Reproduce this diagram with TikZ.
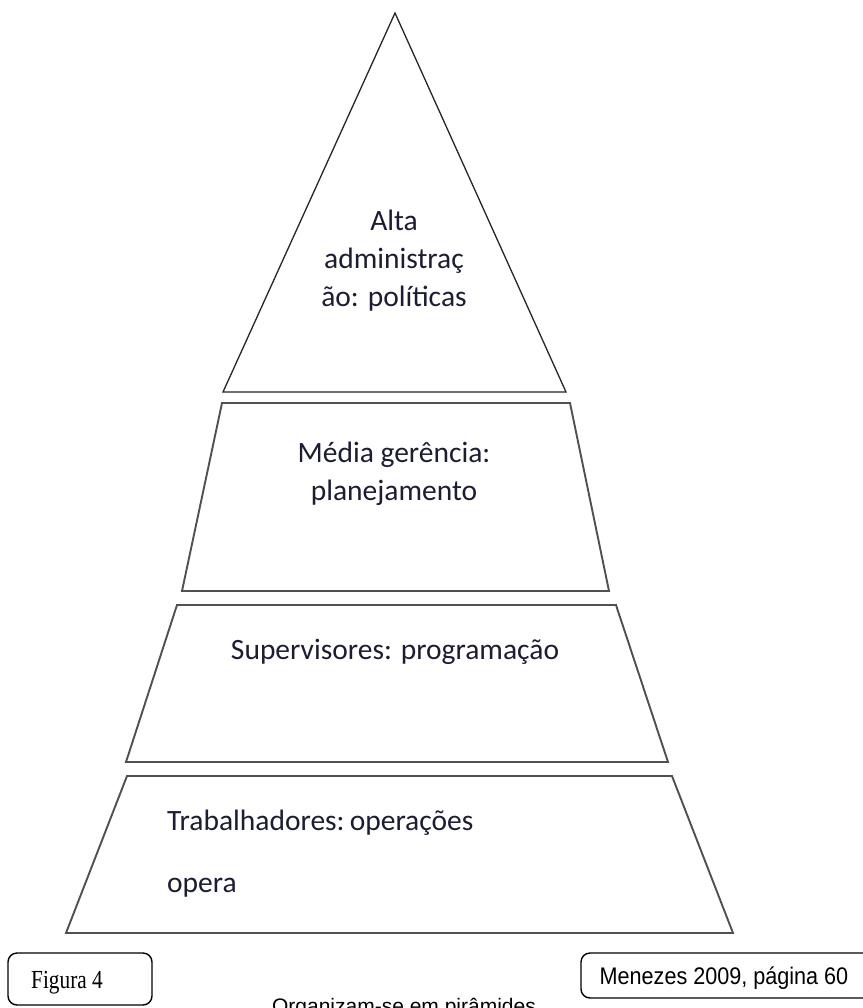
\documentclass[tikz,border=0pt]{standalone}
\usepackage{fontspec}
\setmainfont{Carlito}
\newfontfamily\boxserif{Liberation Serif}
\newfontfamily\boxsans{Liberation Sans}
\definecolor{inktext}{RGB}{28,28,52}
\definecolor{tierline}{RGB}{80,80,80}
\tikzset{
  tier/.style={draw=tierline, line width=1.9pt, line join=miter, fill=white},
  apex/.style={draw=black!85, line width=1.3pt, line join=miter, fill=white},
  label/.style={inner sep=0pt, anchor=base, text=inktext,
    font=\fontsize{29.5}{36}\selectfont},
  labelleft/.style={label, anchor=base west},
  notebox/.style={draw=black, line width=1.4pt, rounded corners=9pt},
}
\begin{document}
\begin{tikzpicture}[x=1pt,y=-1pt]
  \useasboundingbox (0,0) rectangle (862,1008);

  % top of the pyramid
  \draw[apex] (395,13) -- (566,392) -- (223,392) -- cycle;
  \node[label] (alta1) at (394,230) {Alta};
  \node[label] (alta2) at (394,268) {administraç};
  \node[label] (alta3) at (394,306) {ão: políticas};

  % middle management
  \draw[tier] (222,403) -- (570,403) -- (609,591) -- (182,591) -- cycle;
  \node[label] (media1) at (394,462) {Média gerência:};
  \node[label] (media2) at (394,500) {planejamento};

  % supervisors
  \draw[tier] (177,605) -- (616,605) -- (668,762) -- (126,762) -- cycle;
  \node[label] (sup) at (395,659) {Supervisores: programação};

  % workers
  \draw[tier] (127,776) -- (672,776) -- (733,933) -- (66,933) -- cycle;
  \node[labelleft] (trab1) at (167,830) {Trabalhadores:\kern-0.05em\ operações};
  \node[labelleft] (trab2) at (167,892) {opera};

  % caption boxes
  \draw[notebox] (8,953) rectangle (152,1005);
  \node[inner sep=0pt, anchor=base, xscale=0.82,
        font=\boxserif\fontsize{26}{30}\selectfont] (fig) at (67,988) {Figura 4};
  \draw[notebox] (581,953) rectangle (890,998);
  \node[inner sep=0pt, anchor=base, xscale=0.9,
        font=\boxsans\fontsize{24}{28}\selectfont] (ref) at (724,984) {Menezes 2009, página 60};
  \node[inner sep=0pt, anchor=base,
        font=\boxsans\fontsize{21}{25}\selectfont] (cap) at (404,1013) {Organizam-se em pirâmides};
\end{tikzpicture}
\end{document}
